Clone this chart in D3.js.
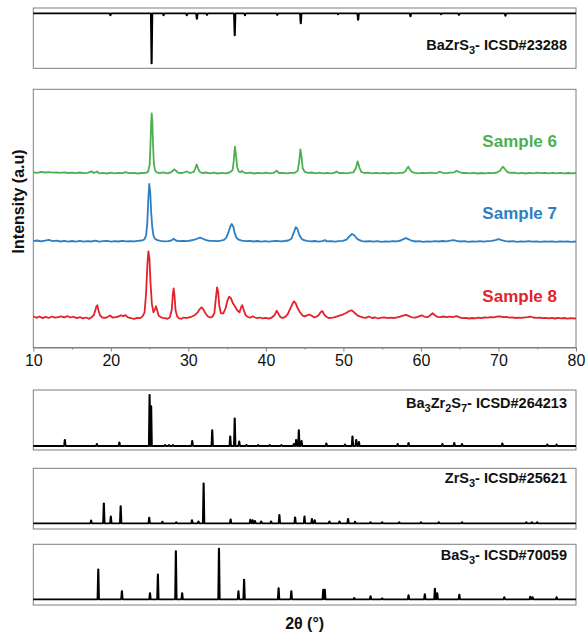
<!DOCTYPE html>
<meta charset="utf-8">
<style>
body { margin: 0; background: #fff; }
text { font-family: "Liberation Sans", Arial, sans-serif; }
.frame { fill: none; stroke: #7f7f7f; stroke-width: 1; }
.axis path, .axis line { stroke: #7f7f7f; }
.axis text { font-size: 16px; fill: #111; }
.ref { fill: none; stroke: #000; stroke-width: 1.8; stroke-linejoin: round; }
.sample { fill: none; stroke-width: 1.8; stroke-linejoin: round; }
.reflabel { font-size: 14.5px; font-weight: bold; fill: #111; }
.samplelabel { font-size: 17px; font-weight: bold; }
</style>
<body>
<script src="https://cdnjs.cloudflare.com/ajax/libs/d3/7.8.5/d3.min.js"></script>
<script>

// sample patterns, [2theta, intensity] (a.u., baseline ~0)
var sample6 = [[10,1],[10.5,0.5],[11,1.5],[11.5,0.8],[12,1.2],[12.5,0.6],[13,1],[13.5,0.4],[14,0.9],[14.5,0.3],[15,0.7],[15.5,0.2],[16,0.8],[16.5,0.1],[17,0.5],[17.5,2],[17.8,0.3],[18.2,1.8],[18.5,0],[19,0.5],[19.5,-0.2],[20,0.6],[20.5,0],[21,0.5],[21.5,0.2],[21.9,1.2],[22.3,0.1],[23,0.4],[23.5,-0.2],[24,0.3],[24.5,0.5],[24.8,1.5],[25.0,8],[25.1,25],[25.2,50],[25.27,60],[25.35,52],[25.45,28],[25.55,10],[25.7,3],[25.9,1],[26.3,0.2],[26.8,1],[27.2,0],[27.7,0.8],[28.0,2.5],[28.2,4],[28.4,2.5],[28.7,0.5],[29.2,0.3],[29.8,1.8],[30.2,0.3],[30.7,1.5],[30.9,5],[31.07,9],[31.25,5],[31.45,1.5],[31.8,0.3],[32.3,0.8],[32.8,0],[33.3,0.6],[33.8,-0.2],[34.3,0.5],[34.8,0],[35.3,0.8],[35.7,3],[35.85,12],[36.0,26.6],[36.15,18],[36.3,6],[36.5,1.8],[36.7,1],[36.9,2.5],[37.1,1],[37.5,0.2],[38,0.6],[38.5,-0.2],[39,0.4],[39.5,0],[40,0.7],[40.5,0],[41,0.5],[41.4,2.5],[41.7,0.3],[42.2,0.5],[42.7,-0.1],[43.2,0.5],[43.7,0.4],[44.1,2.5],[44.3,12],[44.45,24],[44.6,16],[44.75,5],[45.0,1.5],[45.4,0.4],[45.9,0.8],[46.4,0],[46.9,0.6],[47.4,0],[47.9,0.5],[48.4,0],[48.8,0.4],[49.1,1.8],[49.4,0.2],[49.9,0.5],[50.4,0],[50.9,0.6],[51.3,1],[51.6,5],[51.84,12],[52.05,6],[52.3,1.5],[52.7,0.3],[53.2,0.6],[53.7,-0.1],[54.2,0.4],[54.7,0],[55.2,0.5],[55.7,-0.2],[56.2,0.4],[56.7,0],[57.2,0.5],[57.7,0.5],[58.0,2],[58.2,5],[58.37,6.6],[58.55,4],[58.8,1.5],[59.2,0.5],[59.7,0],[60.2,0.5],[60.7,0.1],[61.2,0.6],[61.7,0.2],[62.1,0.5],[62.45,1.6],[62.8,0.4],[63.3,0.2],[63.8,0.7],[64.3,1],[64.6,2.5],[64.9,1.5],[65.3,0.3],[65.8,0.5],[66.3,0],[66.8,0.4],[67.3,-0.2],[67.8,0.3],[68.3,0],[68.8,0.5],[69.3,0.2],[69.8,0.8],[70.2,2.5],[70.45,5.5],[70.6,6.6],[70.8,4.5],[71.1,1.5],[71.5,0.4],[72,0.6],[72.5,0],[73,0.5],[73.5,-0.2],[74,0.4],[74.5,0],[75,0.6],[75.5,0.1],[76,0.5],[76.5,-0.1],[77,0.4],[77.5,0],[78,0.5],[78.5,-0.1],[79,0.3],[79.5,0],[80,0.3]];

var sample7 = [[10,0.5],[10.5,1.2],[11,0.3],[11.5,1.0],[12,1.8],[12.5,0.5],[13,1],[13.5,0.2],[14,0.8],[14.5,0],[15,0.7],[15.5,0.1],[16,0.9],[16.5,0],[17,0.6],[17.5,0.2],[18,1],[18.5,0.1],[19,0.5],[19.5,0.8],[20,0],[20.5,0.6],[21,0.2],[21.5,0.9],[22,0.3],[22.5,0.6],[23,0.4],[23.5,0.9],[24,1.2],[24.3,2],[24.55,6],[24.7,18],[24.85,45],[24.96,57.7],[25.08,50],[25.2,30],[25.35,14],[25.5,6],[25.7,3],[26,1.5],[26.4,0.8],[26.9,0.4],[27.4,0.6],[27.8,1.2],[28.1,3],[28.4,1.2],[28.8,0.5],[29.3,0.8],[29.8,0.6],[30.3,1.2],[30.8,2],[31.2,3.2],[31.5,4],[31.8,3.2],[32.2,1.8],[32.7,0.8],[33.2,0.9],[33.7,0.5],[34.2,1],[34.6,1.8],[34.9,4],[35.15,9],[35.4,15],[35.6,17.7],[35.8,15],[36.0,8],[36.2,4],[36.5,2],[36.9,1],[37.4,0.5],[37.9,0.8],[38.4,0.2],[38.9,0.7],[39.4,0.1],[39.9,0.6],[40.4,0],[40.9,0.6],[41.4,0.9],[41.9,0.3],[42.4,0.7],[42.9,1.2],[43.3,3],[43.6,9],[43.85,14.5],[44.05,13],[44.3,7],[44.6,3],[44.9,1.5],[45.3,0.8],[45.8,0.3],[46.3,0.7],[46.8,0],[47.3,0.6],[47.6,1.6],[47.9,0.3],[48.4,0.5],[48.9,0.1],[49.4,0.6],[49.9,0.8],[50.4,2],[50.8,5.5],[51.1,7.7],[51.4,6.5],[51.7,3.5],[52.0,1.8],[52.4,0.6],[52.9,0.2],[53.4,0.6],[53.9,0],[54.4,0.5],[54.9,-0.2],[55.4,0.4],[55.9,0.1],[56.4,0.5],[56.9,0.3],[57.4,1.2],[57.8,2.8],[58.07,3.5],[58.4,2.5],[58.8,1],[59.3,0.2],[59.8,0.5],[60.3,-0.2],[60.8,0.4],[61.3,0],[61.8,0.6],[62.3,0.2],[62.8,0.7],[63.3,0.3],[63.8,1],[64.2,1.6],[64.6,0.8],[65.1,0.2],[65.6,0.5],[66.1,-0.2],[66.6,0.4],[67.1,0],[67.6,0.5],[68.1,0.1],[68.6,0.6],[69.1,0.8],[69.6,1.6],[70.0,2.5],[70.4,1.6],[70.9,0.6],[71.4,0.2],[71.9,0.5],[72.4,-0.1],[72.9,0.4],[73.4,0],[73.9,0.5],[74.4,0.1],[74.9,0.4],[75.4,-0.2],[75.9,0.3],[76.4,0],[76.9,0.4],[77.4,-0.1],[77.9,0.3],[78.4,0],[78.9,0.3],[79.4,-0.1],[80,0.2]];

var sample8 = [[10,2],[10.4,0.5],[10.8,1.8],[11.2,0.2],[11.6,1.5],[12,0.3],[12.4,1.8],[12.8,0.6],[13.2,1.2],[13.6,2],[14,1],[14.4,2.2],[14.8,0.8],[15.2,1.6],[15.6,0.2],[16,1.2],[16.4,0],[16.8,0.8],[17.2,-0.5],[17.5,1],[17.8,3],[18.0,8],[18.15,12],[18.26,13],[18.4,8],[18.6,3],[18.9,0.8],[19.3,0.5],[19.6,1.5],[19.9,2.8],[20.2,0.8],[20.6,1.2],[21.0,1.8],[21.3,3],[21.6,2.2],[21.9,3.2],[22.2,1],[22.6,0.2],[23.0,-0.5],[23.4,0.5],[23.8,0.2],[24.1,2],[24.35,6],[24.55,25],[24.72,55],[24.85,67],[24.98,60],[25.12,35],[25.3,14],[25.5,6],[25.7,9],[25.82,12],[25.95,9],[26.15,3],[26.4,1.2],[26.7,0.5],[27.0,0.2],[27.3,-0.5],[27.6,0.8],[27.85,8],[28.0,24],[28.1,30],[28.2,24],[28.35,8],[28.55,2],[28.8,0],[29.1,-0.5],[29.4,0.8],[29.7,0.2],[30.0,0.8],[30.4,1.5],[30.8,3],[31.2,6],[31.5,9.5],[31.7,11],[31.9,9.5],[32.2,5],[32.5,2],[32.8,0.8],[33.1,1.5],[33.35,5],[33.55,20],[33.7,31],[33.85,26],[34.0,12],[34.2,5],[34.5,5],[34.8,10],[35.05,18],[35.28,21.6],[35.5,20],[35.75,15],[36.0,12],[36.3,8],[36.6,6],[36.8,11],[36.96,13],[37.15,8],[37.4,3],[37.7,1.2],[38.0,0.8],[38.3,2],[38.6,0.8],[38.9,0.2],[39.2,0.8],[39.6,0],[40.0,0.5],[40.4,-0.3],[40.8,1],[41.1,3],[41.4,7.6],[41.65,4],[41.9,1],[42.2,0.5],[42.5,1.5],[42.8,4],[43.1,9],[43.4,14],[43.63,17],[43.85,15],[44.1,10],[44.4,6],[44.7,3],[45.0,2],[45.3,3],[45.6,3.8],[45.9,2.5],[46.2,1],[46.5,1.5],[46.8,3],[47.05,6],[47.28,7.3],[47.5,4],[47.8,1.5],[48.1,0.3],[48.4,0.5],[48.8,1],[49.2,2],[49.6,3],[50.0,4],[50.4,5.5],[50.7,7],[50.98,8],[51.2,7.5],[51.5,5],[51.8,3],[52.1,2],[52.5,1],[52.9,0.5],[53.3,1.8],[53.7,0.3],[54.1,0.8],[54.5,-0.2],[54.9,0.6],[55.3,1],[55.7,0.2],[56.1,0.6],[56.5,0.3],[56.9,0.9],[57.3,1.6],[57.7,2.6],[58.07,3.5],[58.4,2.4],[58.8,1],[59.2,0.6],[59.6,1.5],[60.1,3],[60.5,1.5],[60.9,1.2],[61.2,3],[61.5,5],[61.8,3],[62.1,1.5],[62.5,1.2],[62.9,1.8],[63.3,1.2],[63.7,1.6],[64.1,1.2],[64.6,2.2],[65.0,1],[65.4,0.2],[65.8,0.5],[66.2,-0.2],[66.6,0.3],[67.0,0],[67.4,0.6],[67.8,0.2],[68.2,0.8],[68.6,0.6],[69.0,1.2],[69.4,1.0],[69.8,1.6],[70.2,1.8],[70.6,1.2],[71.0,1.4],[71.4,0.6],[71.8,0.9],[72.2,0.3],[72.6,0.6],[73.0,0.4],[73.4,0.9],[73.8,1.2],[74.1,1.6],[74.5,0.8],[74.9,0.4],[75.3,0.7],[75.7,0.1],[76.1,0.5],[76.5,0],[76.9,0.4],[77.3,-0.2],[77.7,0.5],[78.1,0],[78.5,0.3],[78.9,-0.3],[79.3,0.2],[79.7,0],[80,-0.2]];

// vertical offsets of the stacked sample curves (a.u.)
var sampleOffsets = [174.2, 105.8, 29.2];
var sampleNames = ["Sample 6", "Sample 7", "Sample 8"];
var sampleColors = ["#4cb050", "#2e7ec2", "#e4222a"];

// reference peak lists, [2theta, relative intensity %]
var refBaZrS3 = [[19.94,4],[25.26,100],[26.8,4],[29.8,4],[31.1,11],[32.4,3],[35.98,44],[37.3,4],[41.47,3],[44.5,20],[49.3,2],[51.9,13],[58.65,6],[62.6,2],[64.9,3],[70.9,5]];
var refBa3Zr2S7 = [[14.07,12],[18.2,4],[21.1,7],[25.0,100],[25.2,78],[27.0,2],[27.5,2],[28.0,2],[30.5,10],[33.08,31],[35.4,19],[35.98,54],[36.56,9],[37.5,2],[39.0,2],[40.5,2],[42.0,2],[43.6,4],[43.9,12],[44.25,31],[44.6,10],[47.8,5],[50.2,3],[51.17,19],[51.65,12],[52.0,8],[57.0,4],[58.4,6],[62.77,4],[64.3,6],[65.3,4],[70.5,5],[76.3,3],[77.5,3]];
var refZrS3 = [[17.46,7],[19.1,50],[20.0,17],[21.27,43],[24.95,14],[26.65,4],[28.43,3],[30.47,8],[31.3,5],[31.97,100],[35.45,10],[38.0,9],[38.3,8],[38.6,6],[39.4,5],[40.67,5],[41.74,21],[43.77,15],[44.98,17],[45.94,11],[46.3,8],[48.2,5],[49.5,5],[50.6,11],[51.5,4],[53.5,3],[55.0,3],[57.2,3],[60.0,3],[62.3,3],[65.3,3],[73.6,3],[74.3,3],[75.0,3]];
var refBaS3 = [[18.38,59],[21.43,16],[25.05,12],[26.07,49],[28.39,95],[29.2,12],[33.95,100],[36.46,16],[37.19,39],[41.64,22],[43.28,16],[47.4,19],[47.6,19],[51.4,3],[53.5,6],[55.0,2],[58.4,8],[60.5,10],[61.8,21],[62.1,12],[64.95,9],[70.75,4],[74.1,5],[74.4,4],[77.5,4]];

var refNames = [["BaZrS", "3", "- ICSD#23288"], ["Ba", "3", "Zr", "2", "S", "7", "- ICSD#264213"], ["ZrS", "3", "- ICSD#25621"], ["BaS", "3", "- ICSD#70059"]];

var xTicks = [10, 20, 30, 40, 50, 60, 70, 80];

// layout
var W = 585, H = 635;
var left = 33.3, right = 576;

var svg = d3.select("body").append("svg")
    .attr("width", W)
    .attr("height", H);

svg.append("rect").attr("width", W).attr("height", H).attr("fill", "#fff");

var x = d3.scaleLinear().domain([10, 80]).range([left, right]);

// ---------- main panel ----------
var mainTop = 89.3, mainBottom = 347.5;
var y = d3.scaleLinear().domain([0, mainBottom - mainTop]).range([mainBottom, mainTop]);

svg.append("rect").attr("class", "frame")
    .attr("x", left).attr("y", mainTop)
    .attr("width", right - left).attr("height", mainBottom - mainTop);

var samples = [sample6, sample7, sample8];
samples.forEach(function(s, i) {
  var line = d3.line()
      .x(function(d) { return x(d[0]); })
      .y(function(d) { return y(d[1] + sampleOffsets[i]); });
  svg.append("path")
      .datum(s)
      .attr("class", "sample")
      .attr("stroke", sampleColors[i])
      .attr("d", line);
});

var labelY = [141, 213, 296];
sampleNames.forEach(function(n, i) {
  svg.append("text")
      .attr("class", "samplelabel")
      .attr("x", 557)
      .attr("y", labelY[i])
      .attr("dy", "0.35em")
      .attr("text-anchor", "end")
      .attr("fill", sampleColors[i])
      .text(n);
});

// x axis, major + minor ticks outward
svg.append("g")
    .attr("class", "axis")
    .attr("transform", "translate(0," + mainBottom + ")")
    .call(d3.axisBottom(x).tickValues(d3.range(15, 80, 10)).tickSize(2).tickFormat(""))
    .call(function(g) { g.select(".domain").remove(); });

svg.append("g")
    .attr("class", "axis")
    .attr("transform", "translate(0," + mainBottom + ")")
    .call(d3.axisBottom(x).tickValues(xTicks).tickSize(4).tickPadding(3).tickSizeOuter(0).tickFormat(d3.format("d")));

svg.append("text")
    .attr("transform", "translate(18," + ((mainTop + mainBottom) / 2 - 17) + ") rotate(-90)")
    .attr("text-anchor", "middle")
    .attr("dy", "0.35em")
    .style("font-size", "16px")
    .style("font-weight", "bold")
    .attr("fill", "#111")
    .text("Intensity (a.u)");

// ---------- reference panels ----------
var refPanels = [
  {data: refBaZrS3, top: 8, bottom: 68.3, base: 13.3, full: -50, ly: 50},
  {data: refBa3Zr2S7, top: 390, bottom: 450, base: 446, full: 51, ly: 408},
  {data: refZrS3, top: 468.3, bottom: 529, base: 523.3, full: 40, ly: 483},
  {data: refBaS3, top: 544.3, bottom: 605, base: 599.3, full: 50.7, ly: 560}
];

refPanels.forEach(function(p, i) {
  svg.append("rect").attr("class", "frame")
      .attr("x", left).attr("y", p.top)
      .attr("width", right - left).attr("height", p.bottom - p.top);

  var yr = d3.scaleLinear().domain([0, 100]).range([p.base, p.base - p.full]);

  // stick pattern: each reflection drawn as a narrow spike on the baseline
  var pts = [[10, 0]];
  p.data.slice().sort(function(a, b) { return a[0] - b[0]; }).forEach(function(d) {
    pts.push([d[0] - 0.1, 0], [d[0] - 0.02, d[1]], [d[0] + 0.02, d[1]], [d[0] + 0.1, 0]);
  });
  pts.push([80, 0]);

  svg.append("path")
      .datum(pts)
      .attr("class", "ref")
      .attr("d", d3.line()
        .x(function(d) { return x(d[0]); })
        .y(function(d) { return yr(d[1]); }));

  var t = svg.append("text")
      .attr("class", "reflabel")
      .attr("x", 567)
      .attr("y", p.ly)
      .attr("dy", "0.35em")
      .attr("text-anchor", "end");
  refNames[i].forEach(function(part, k) {
    var sub = k % 2 === 1;
    t.append("tspan")
        .attr("dy", sub ? 4 : (k > 0 ? -4 : 0))
        .style("font-size", sub ? "11px" : null)
        .text(part);
  });
});

svg.append("text")
    .attr("x", (left + right) / 2)
    .attr("y", 623)
    .attr("dy", "0.35em")
    .attr("text-anchor", "middle")
    .style("font-size", "16px")
    .style("font-weight", "bold")
    .attr("fill", "#111")
    .text("2\u03b8 (\u00b0)");

</script>
</body>
